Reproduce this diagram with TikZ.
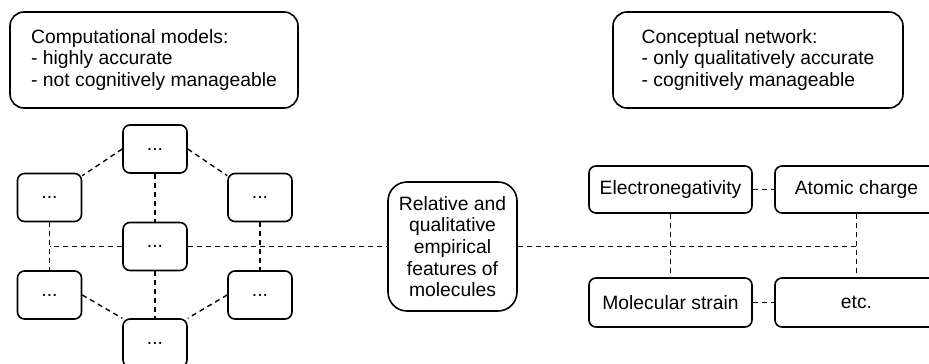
\documentclass[tikz,border=0pt]{standalone}
\usepackage{fontspec}
\setmainfont{Liberation Sans}
\begin{document}
\begin{tikzpicture}[x=1pt,y=-1pt,
  box/.style={draw, line width=1.6pt, rounded corners=#1, inner sep=0pt,
    align=center, font=\fontsize{19.3}{21.7}\selectfont},
  box/.default=7pt,
  small/.style={box=7pt, minimum width=64pt, minimum height=48pt},
  feat/.style={box=7pt, minimum width=163pt, minimum height=48pt},
  conn/.style={draw, line width=1.4pt, dash pattern=on 5pt off 4pt}]
\useasboundingbox (0,0) rectangle (929,364);
\clip (0,0) rectangle (929,364);
\fill[white] (0,0) rectangle (929,364);

% headers
\node[box=14pt, minimum width=288pt, minimum height=96pt, align=left] (TL) at (154,60)
  {Computational models:\\- highly accurate\\- not cognitively manageable};
\node[box=14pt, minimum width=290pt, minimum height=96pt, align=left] (TR) at (758,60)
  {Conceptual network:\\- only qualitatively accurate\\- cognitively manageable};

% computational network
\node[small] (T)  at (155,149)   {...};
\node[small] (UL) at (49.5,197.5) {...};
\node[small] (UR) at (260,197.5) {...};
\node[small] (C)  at (155,246.5) {...};
\node[small] (LL) at (49.5,295)  {...};
\node[small] (LR) at (260,295)   {...};
\node[small] (B)  at (155,343)   {...};

% middle
\node[box=19pt, minimum width=129pt, minimum height=129pt] (M) at (452.5,246.5)
  {Relative and\\qualitative\\empirical\\features of\\molecules};

% conceptual network
\node[feat, minimum height=47pt] (EN) at (670.5,189.5) {Electronegativity};
\node[feat, minimum height=47pt] (AC) at (856.5,189.5) {Atomic charge};
\node[feat, minimum height=49pt] (MS) at (670.5,302.5) {Molecular strain};
\node[feat, minimum height=49pt] (ET) at (856.5,302.5) {etc.};

% connectors left
\draw[conn] (T.west) -- ([yshift=-3pt]UL.north east);
\draw[conn] (T.east) -- ([yshift=-3pt]UR.north west);
\draw[conn] (T.south) -- (C.north);
\draw[conn] (UL.south) -- (LL.north);
\draw[conn] (UR.south) -- (LR.north);
\draw[conn] (C.west) -- (UL.south |- C.west);
\draw[conn] (C.south) -- (B.north);
\draw[conn] (LL.east) -- (B.north west);
\draw[conn] (LR.west) -- (B.north east);
\draw[conn] (C.east) -- (M.west);

% connectors right
\draw[conn] (M.east) -- (AC.south |- M.east);
\draw[conn] (EN.south) -- (MS.north);
\draw[conn] (AC.south) -- (ET.north);
\draw[conn] (EN.east) -- (AC.west);
\draw[conn] (MS.east) -- (ET.west);
\end{tikzpicture}
\end{document}
